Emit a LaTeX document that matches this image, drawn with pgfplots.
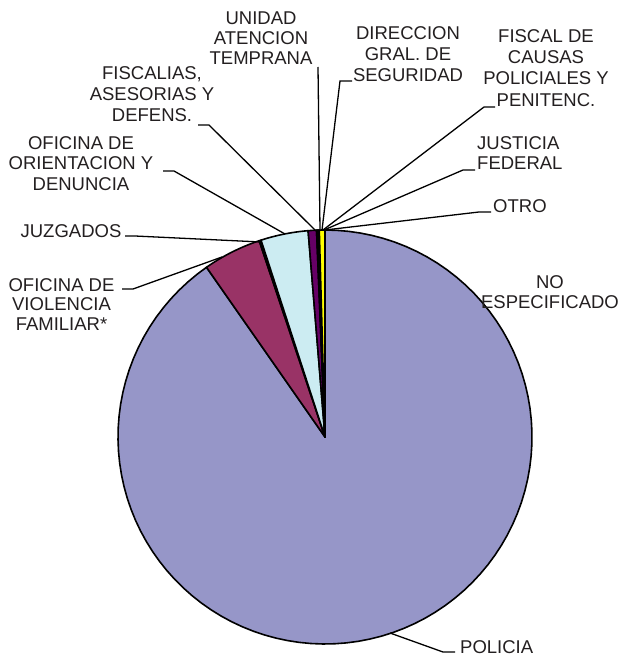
\documentclass[border=0pt]{standalone}
\usepackage{pgfplots}
\usepackage{pgfplotstable}
\usepackage{fontspec}
\setmainfont{Liberation Sans}
\pgfplotsset{compat=1.18}

\definecolor{c0}{RGB}{150,150,200}
\definecolor{c1}{RGB}{153,51,102}
\definecolor{c2}{RGB}{255,255,204}
\definecolor{c3}{RGB}{204,236,242}
\definecolor{c4}{RGB}{102,0,102}
\definecolor{c5}{RGB}{255,128,128}
\definecolor{c6}{RGB}{0,102,204}
\definecolor{c7}{RGB}{204,204,255}
\definecolor{c8}{RGB}{0,0,128}
\definecolor{c9}{RGB}{255,0,255}
\definecolor{c10}{RGB}{255,255,0}
\definecolor{txt}{RGB}{35,31,32}

% share (%) of each slice, clockwise from 12 o'clock
% 0 POLICIA, 1 OFICINA DE VIOLENCIA FAMILIAR*, 2 JUZGADOS,
% 3 OFICINA DE ORIENTACION Y DENUNCIA, 4 FISCALIAS, ASESORIAS Y DEFENS.,
% 5 UNIDAD ATENCION TEMPRANA, 6 DIRECCION GRAL. DE SEGURIDAD,
% 7 FISCAL DE CAUSAS POLICIALES Y PENITENC., 8 JUSTICIA FEDERAL,
% 9 OTRO, 10 NO ESPECIFICADO
\pgfplotstableread{
idx value
0 90.30
1 4.55
2 0.15
3 3.70
4 0.65
5 0.05
6 0.05
7 0.03
8 0.03
9 0.05
10 0.44
}\piedata

\newcommand{\lbl}[3]{\node[anchor=base,inner sep=0pt,text=txt,font=\fontsize{18.5}{20}\selectfont] at (axis cs:#1,#2) {#3};}
\newcommand{\lblw}[3]{\node[anchor=base west,inner sep=0pt,text=txt,font=\fontsize{18.5}{20}\selectfont] at (axis cs:#1,#2) {#3};}

\begin{document}
\begin{tikzpicture}
\begin{axis}[
  scale only axis, width=621pt, height=660pt,
  xmin=0, xmax=621, ymin=0, ymax=660, y dir=reverse,
  hide axis, clip=false]
\path (axis cs:0,0) rectangle (axis cs:621,660);
\def\cum{0}
\pgfplotsforeachungrouped \i in {0,...,10}{%
  \pgfplotstablegetelem{\i}{value}\of\piedata
  \pgfmathsetmacro\a{\cum*3.6}%
  \pgfmathsetmacro\cum{\cum+\pgfplotsretval}%
  \pgfmathsetmacro\b{\cum*3.6}%
  \edef\mywedge{\noexpand\addplot[draw=black, line width=1.6pt, line join=round, fill=c\i, domain=\a:\b, samples=100] ({325+207*sin(x)},{437-207*cos(x)}) -- (axis cs:325,437) -- cycle;}%
  \mywedge
}
% leader lines
\begin{scope}[line width=1.3pt, black]
\draw (axis cs:390,633) -- (axis cs:443,652) -- (axis cs:455,652);
\draw (axis cs:222,257) -- (axis cs:133,289) -- (axis cs:122,289);
\draw (axis cs:261,242) -- (axis cs:135,236) -- (axis cs:125,236);
\draw (axis cs:285,234) -- (axis cs:174,171) -- (axis cs:163,171);
\draw (axis cs:316,231) -- (axis cs:209,125) -- (axis cs:198,125);
\draw (axis cs:320,230) -- (axis cs:318,67);
\draw (axis cs:322,230) -- (axis cs:340,81) -- (axis cs:352,81);
\draw (axis cs:323,230) -- (axis cs:484,107) -- (axis cs:495,107);
\draw (axis cs:324,230) -- (axis cs:463,170) -- (axis cs:475,170);
\draw (axis cs:325,230) -- (axis cs:479,212) -- (axis cs:491,212);
\end{scope}
% labels
\lblw{460}{653}{POLICIA}
\lbl{61.5}{291}{OFICINA DE}
\lbl{61.5}{310}{VIOLENCIA}
\lbl{61.5}{330}{FAMILIAR*}
\lbl{71}{237}{JUZGADOS}
\lbl{81}{150}{OFICINA DE}
\lbl{81}{170}{ORIENTACION Y}
\lbl{81}{190}{DENUNCIA}
\lbl{152}{80}{FISCALIAS,}
\lbl{152}{101}{ASESORIAS Y}
\lbl{152}{122}{DEFENS.}
\lbl{261}{25}{UNIDAD}
\lbl{261}{45}{ATENCION}
\lbl{261}{65}{TEMPRANA}
\lbl{408}{40}{DIRECCION}
\lbl{408}{61}{GRAL. DE}
\lbl{408}{82}{SEGURIDAD}
\lbl{546}{43}{FISCAL DE}
\lbl{546}{64}{CAUSAS}
\lbl{546}{85}{POLICIALES Y}
\lbl{546}{107}{PENITENC.}
\lblw{477}{150}{JUSTICIA}
\lblw{477}{170}{FEDERAL}
\lblw{493}{212}{OTRO}
\lbl{550}{288}{NO}
\lbl{550}{308}{ESPECIFICADO}
\end{axis}
\end{tikzpicture}
\end{document}
